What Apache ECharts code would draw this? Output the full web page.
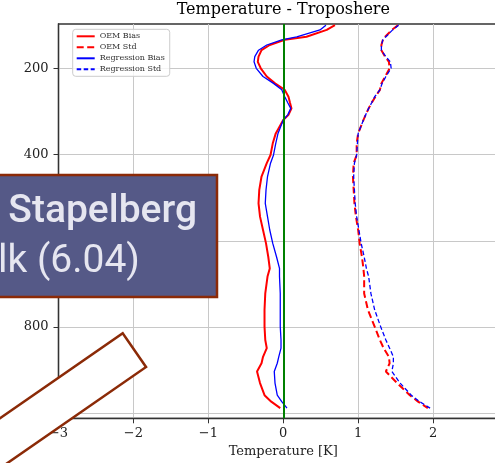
<!DOCTYPE html>
<html><head><meta charset="utf-8">
<script src="https://cdn.jsdelivr.net/npm/echarts@6/dist/echarts.min.js"></script>
<style>html,body{margin:0;padding:0;background:#fff}#c{width:495px;height:463px}</style>
</head><body><div id="c"></div>
<script>
// Pressure levels (hPa)
const pressure = [100,111,127,134,146,158,173,185,200,219,235,250,266,280,293,308,320,351,374,401,420,451,482,513,544,575,606,637,664,683,722,760,799,830,849,869,884,903,930,958,973,988];
// Temperature bias / std (K)
const oemBias = [0.69,0.58,0.31,0.02,-0.18,-0.29,-0.33,-0.34,-0.30,-0.22,-0.11,0.02,0.07,0.09,0.11,0.07,0.00,-0.10,-0.14,-0.17,-0.22,-0.29,-0.32,-0.33,-0.31,-0.27,-0.23,-0.20,-0.18,-0.21,-0.24,-0.25,-0.25,-0.24,-0.22,-0.27,-0.29,-0.35,-0.31,-0.25,-0.16,-0.04];
const regBias = [0.57,0.49,0.18,-0.02,-0.22,-0.33,-0.38,-0.39,-0.36,-0.27,-0.13,-0.02,0.02,0.06,0.10,0.06,0.00,-0.07,-0.10,-0.13,-0.17,-0.21,-0.23,-0.24,-0.21,-0.18,-0.14,-0.09,-0.05,-0.05,-0.04,-0.04,-0.04,-0.03,-0.03,-0.06,-0.08,-0.12,-0.11,-0.08,-0.02,0.05];
const oemStd = [1.53,1.45,1.36,1.33,1.31,1.31,1.36,1.41,1.42,1.36,1.31,1.29,1.23,1.18,1.14,1.10,1.07,1.00,0.98,0.98,0.94,0.93,0.94,0.95,0.97,1.00,1.02,1.05,1.07,1.08,1.08,1.13,1.22,1.29,1.34,1.41,1.42,1.37,1.52,1.69,1.80,1.93];
const regStd = [1.54,1.46,1.37,1.33,1.31,1.31,1.37,1.43,1.44,1.37,1.32,1.29,1.22,1.18,1.14,1.10,1.07,1.00,0.99,0.98,0.95,0.94,0.95,0.96,0.98,1.01,1.04,1.08,1.11,1.14,1.17,1.22,1.30,1.37,1.42,1.47,1.47,1.45,1.56,1.71,1.82,1.96];
const seriesNames = ['OEM Bias','OEM Std','Regression Bias','Regression Std'];
const yTicks = [200,400,600,800,1000];
const xRange = [-3, 3];
const yRange = [97.3, 1011.6];

const chart = echarts.init(document.getElementById('c'), null, {renderer:'canvas'});
const mk = arr => pressure.map((p,i) => [arr[i], p]);
const serif = 'DejaVu Serif';
const axisCol = '#333';
const gridCol = '#c8c8c8';

const option = {
  animation: false,
  backgroundColor: '#fff',
  title: {
    text: 'Temperature - Troposhere', left: 283.3, top: 2, textAlign: 'center', padding: 0,
    textStyle: {fontFamily: serif, fontSize: 16, fontWeight: 'normal', color: '#000'}
  },
  legend: {
    orient: 'vertical', left: 72.7, top: 29.3, itemWidth: 18, itemHeight: 8, itemGap: 3,
    padding: [3,5,3,3], backgroundColor: 'rgba(255,255,255,0.8)', borderColor: '#ccc',
    borderWidth: 1, borderRadius: 3,
    itemStyle: {opacity: 0},
    textStyle: {fontFamily: serif, fontSize: 8, color: '#333'},
    data: seriesNames
  },
  grid: {left: 58.5, right: -13, top: 24, bottom: 44.7, show: true, borderColor: axisCol, borderWidth: 1.3,
    backgroundColor: 'transparent', containLabel: false, outerBoundsMode: 'none'},
  xAxis: {
    type: 'value', min: xRange[0], max: xRange[1], interval: 1,
    name: 'Temperature [K]', nameLocation: 'middle', nameGap: 26,
    nameTextStyle: {fontFamily: serif, fontSize: 13, color: '#222'},
    axisLine: {show: true, onZero: false, lineStyle: {color: axisCol, width: 1.3}},
    axisTick: {show: true, length: 5, lineStyle: {color: axisCol}},
    axisLabel: {margin: 9, fontFamily: serif, fontSize: 13, color: '#222',
      formatter: v => String(v).replace('-', '\u2212')},
    splitLine: {show: true, lineStyle: {color: gridCol, width: 1}}
  },
  yAxis: {
    type: 'value', inverse: true, min: yRange[0], max: yRange[1],
    axisLine: {show: true, onZero: false, lineStyle: {color: axisCol, width: 1.3}},
    axisTick: {show: true, length: 5, customValues: yTicks, lineStyle: {color: axisCol}},
    axisLabel: {customValues: yTicks, margin: 10, fontFamily: serif, fontSize: 13, color: '#222'},
    splitLine: {show: true, lineStyle: {color: gridCol, width: 1}}
  },
  series: [
    {name: seriesNames[0], type: 'line', data: mk(oemBias), symbol: 'none', showSymbol: false,
      lineStyle: {color: '#ff0000', width: 2}, itemStyle: {color: '#ff0000'}},
    {name: seriesNames[1], type: 'line', data: mk(oemStd), symbol: 'none', showSymbol: false,
      lineStyle: {color: '#ff0000', width: 2, type: [7,3.5]}, itemStyle: {color: '#ff0000'}},
    {name: seriesNames[2], type: 'line', data: mk(regBias), symbol: 'none', showSymbol: false,
      lineStyle: {color: '#0000ff', width: 1.3}, itemStyle: {color: '#0000ff'}},
    {name: seriesNames[3], type: 'line', data: mk(regStd), symbol: 'none', showSymbol: false,
      lineStyle: {color: '#0000ff', width: 1.3, type: [4.5,2.5]}, itemStyle: {color: '#0000ff'},
      markLine: {silent: true, symbol: 'none', label: {show: false}, animation: false,
        lineStyle: {color: '#008000', width: 2, type: 'solid'}, data: [{xAxis: 0}]}}
  ],
  graphic: [
    {type: 'rect', z: 100, shape: {x: -5, y: 175, width: 222, height: 122},
      style: {fill: '#555987', stroke: '#8b2a07', lineWidth: 2.5}},
    {type: 'text', z: 101, x: 197, y: 212, style: {text: 'n Stapelberg', fill: '#e6e6f0',
      font: '500 39px Roboto', textAlign: 'right', textVerticalAlign: 'middle'}},
    {type: 'text', z: 101, x: -2, y: 262, style: {text: 'lk (6.04)', fill: '#e6e6f0',
      font: '400 39px Roboto', textAlign: 'left', textVerticalAlign: 'middle'}},
    {type: 'rect', z: 102, x: 122.7, y: 333.3, rotation: 0.606,
      shape: {x: -300, y: 0, width: 300, height: 41},
      style: {fill: '#fff', stroke: '#8b2a07', lineWidth: 2.5}}
  ]
};
chart.setOption(option);
</script></body></html>
